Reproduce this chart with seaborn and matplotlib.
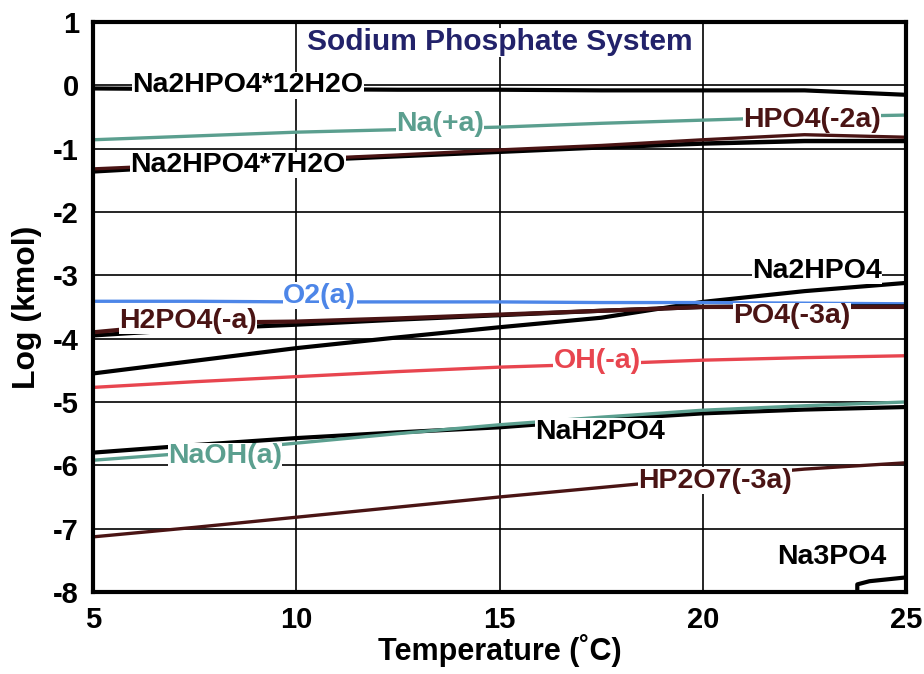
import numpy as np
import pandas as pd
import matplotlib
matplotlib.use("Agg")
import matplotlib.pyplot as plt
import seaborn as sns

# temperature grid (deg C)
temps = [5, 7.5, 10, 12.5, 15, 17.5, 20, 22.5, 25]

na2hpo4_12h2o = [-0.05, -0.06, -0.06, -0.07, -0.07, -0.08, -0.08, -0.08, -0.15]
na_plus      = [-0.86, -0.80, -0.74, -0.70, -0.66, -0.60, -0.55, -0.50, -0.47]
hpo4_2       = [-1.32, -1.25, -1.17, -1.10, -1.02, -0.95, -0.86, -0.78, -0.82]
na2hpo4_7h2o = [-1.36, -1.27, -1.19, -1.12, -1.05, -0.98, -0.92, -0.88, -0.88]
na2hpo4      = [-4.55, -4.35, -4.15, -3.98, -3.82, -3.67, -3.42, -3.25, -3.12]
o2           = [-3.41, -3.41, -3.42, -3.42, -3.42, -3.43, -3.43, -3.44, -3.45]
h2po4        = [-3.90, -3.75, -3.73, -3.68, -3.62, -3.56, -3.50, -3.50, -3.50]
po4_3        = [-3.95, -3.85, -3.78, -3.70, -3.63, -3.56, -3.50, -3.49, -3.49]
oh           = [-4.77, -4.68, -4.60, -4.52, -4.45, -4.40, -4.34, -4.30, -4.27]
naoh         = [-5.92, -5.80, -5.65, -5.50, -5.36, -5.24, -5.13, -5.06, -5.00]
nah2po4      = [-5.80, -5.68, -5.57, -5.48, -5.40, -5.28, -5.18, -5.12, -5.08]
hp2o7        = [-7.13, -6.98, -6.82, -6.66, -6.50, -6.35, -6.20, -6.06, -5.96]
na3po4_t     = [23.8, 23.8, 24.1, 25]
na3po4       = [-8.0, -7.88, -7.83, -7.77]

teal, blue, red, maroon = "#5b9f8f", "#4d86e8", "#e8454f", "#4a1414"

series = [
    (temps, na2hpo4_12h2o, "black", 3.0),
    (temps, na_plus, teal, 2.4),
    (temps, na2hpo4_7h2o, "black", 3.2),
    (temps, hpo4_2, maroon, 2.4),
    (temps, na2hpo4, "black", 3.0),
    (temps, o2, blue, 2.4),
    (temps, po4_3, "black", 3.0),
    (temps, h2po4, maroon, 3.0),
    (temps, oh, red, 2.4),
    (temps, nah2po4, "black", 3.0),
    (temps, naoh, teal, 2.4),
    (temps, hp2o7, maroon, 2.4),
    (na3po4_t, na3po4, "black", 3.0),
]

labels = [
    ("Na2HPO4*12H2O", 8.81, 0.0, "black"),
    ("Na(+a)", 13.54, -0.61, teal),
    ("HPO4(-2a)", 22.69, -0.55, maroon),
    ("Na2HPO4*7H2O", 8.57, -1.26, "black"),
    ("Na2HPO4", 22.81, -2.93, "black"),
    ("O2(a)", 10.58, -3.32, blue),
    ("H2PO4(-a)", 7.34, -3.72, maroon),
    ("PO4(-3a)", 22.2, -3.65, maroon),
    ("OH(-a)", 17.4, -4.35, red),
    ("NaH2PO4", 17.47, -5.47, "black"),
    ("NaOH(a)", 8.25, -5.86, teal),
    ("HP2O7(-3a)", 20.3, -6.24, maroon),
    ("Na3PO4", 23.18, -7.44, "black"),
]

sns.set_style("white")
plt.rcParams['font.family'] = ['Liberation Sans', 'DejaVu Sans']
plt.rcParams['axes.unicode_minus'] = False

fig = plt.figure(figsize=(9.24, 6.74), dpi=100)
ax = fig.add_axes([0.1006, 0.1217, 0.88, 0.8457])

for x, y, c, lw in series:
    sns.lineplot(x=x, y=y, color=c, linewidth=lw, ax=ax, estimator=None, sort=False)

for txt, x, y, c in labels:
    ax.text(x, y, txt, color=c, fontsize=20.5, fontweight='bold', ha='center', va='center',
            bbox=dict(fc='white', ec='none', pad=0.3), zorder=5)

ax.text(15, 0.68, "Sodium Phosphate System", color="#22226a", fontsize=21.5,
        fontweight='bold', ha='center', va='center',
        bbox=dict(fc='white', ec='none', pad=0.3), zorder=5)

ax.set_xlim(5, 25)
ax.set_ylim(-8, 1)
ax.set_xticks([5, 10, 15, 20, 25])
ax.set_yticks(range(-8, 2))
ax.grid(True, color='black', linewidth=1.2)
ax.set_axisbelow(True)
for s in ax.spines.values():
    s.set_color('black')
    s.set_linewidth(3)
ax.tick_params(length=0, pad=10, colors='black')
for lab in ax.get_xticklabels() + ax.get_yticklabels():
    lab.set_fontweight('bold')
    lab.set_fontsize(21)
    lab.set_color('black')
ax.set_xlabel("Temperature (˚C)", fontsize=22, fontweight='bold', color='black', labelpad=0)
ax.set_ylabel("Log (kmol)", fontsize=23, fontweight='bold', color='black', labelpad=8)

plt.savefig("out.png", dpi=100)
